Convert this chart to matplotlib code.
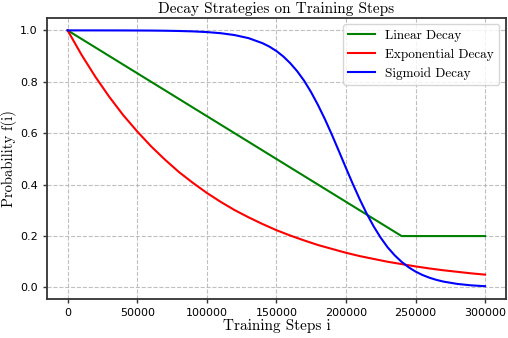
import matplotlib
matplotlib.use("Agg")
import matplotlib.pyplot as plt

# Linear decay (breakpoints)
lin_steps = [0, 240000, 300000]
lin_vals = [1.0, 0.2, 0.2]

# Exponential decay (read every 10000 steps)
exp_steps = list(range(0, 300001, 10000))
exp_vals = [1.000, 0.905, 0.819, 0.741, 0.670, 0.607, 0.549, 0.497, 0.449, 0.407,
            0.368, 0.333, 0.301, 0.273, 0.247, 0.223, 0.202, 0.183, 0.165, 0.150,
            0.135, 0.122, 0.111, 0.100, 0.091, 0.082, 0.074, 0.067, 0.061, 0.055,
            0.050]

# Sigmoid decay (read values)
sig_steps = [0, 10000, 20000, 30000, 40000, 50000, 60000, 70000, 80000, 90000,
             100000, 110000, 120000, 130000, 140000, 145000, 150000, 155000, 160000,
             165000, 170000, 175000, 180000, 185000, 190000, 195000, 200000, 205000,
             210000, 215000, 220000, 225000, 230000, 235000, 240000, 245000, 250000,
             255000, 260000, 265000, 270000, 280000, 290000, 300000]
sig_vals = [1.000, 0.9999, 0.9999, 0.9998, 0.9997, 0.9995, 0.9992, 0.9986, 0.9976, 0.9960,
            0.9934, 0.9890, 0.9817, 0.9698, 0.9503, 0.9368, 0.9198, 0.8985, 0.8722,
            0.8409, 0.8038, 0.7593, 0.7089, 0.6534, 0.593, 0.5296, 0.465, 0.402,
            0.342, 0.2865, 0.237, 0.1934, 0.156, 0.1253, 0.0998, 0.0788, 0.062,
            0.0486, 0.038, 0.0296, 0.023, 0.0139, 0.0083, 0.005]

labels = ["Linear Decay", "Exponential Decay", "Sigmoid Decay"]
title = "Decay Strategies on Training Steps"
xlabel = "Training Steps i"
ylabel = "Probability f(i)"

serif = "cmr10"

fig = plt.figure(figsize=(5.08, 3.38), dpi=100)
ax = fig.add_axes([0.092, 0.1154, 0.904, 0.8326])

ax.plot(lin_steps, lin_vals, color="green", lw=1.5, label=labels[0])
ax.plot(exp_steps, exp_vals, color="red", lw=1.5, label=labels[1])
ax.plot(sig_steps, sig_vals, color="blue", lw=1.5, label=labels[2])

ax.grid(True, linestyle="--", color="#b0b0b0", alpha=0.8, linewidth=0.8)
for s in ax.spines.values():
    s.set_color("#333333")
    s.set_linewidth(1.3)
ax.tick_params(labelsize=8, length=3, color="#333333", width=1.0)
ax.set_xticks([0, 50000, 100000, 150000, 200000, 250000, 300000])
ax.set_yticks([0.0, 0.2, 0.4, 0.6, 0.8, 1.0])

ax.set_title(title, fontsize=11, family=serif, pad=3)
ax.set_xlabel(xlabel, fontsize=11, family=serif, labelpad=1)
ax.set_ylabel(ylabel, fontsize=10.5, family=serif)
ax.yaxis.set_label_coords(-0.064, 0.5)

leg = ax.legend(loc="upper right", prop={"family": serif, "size": 9.5}, framealpha=0.8,
                edgecolor="#cccccc", fancybox=True, handlelength=2.0)

fig.savefig("out.png", dpi=100)
